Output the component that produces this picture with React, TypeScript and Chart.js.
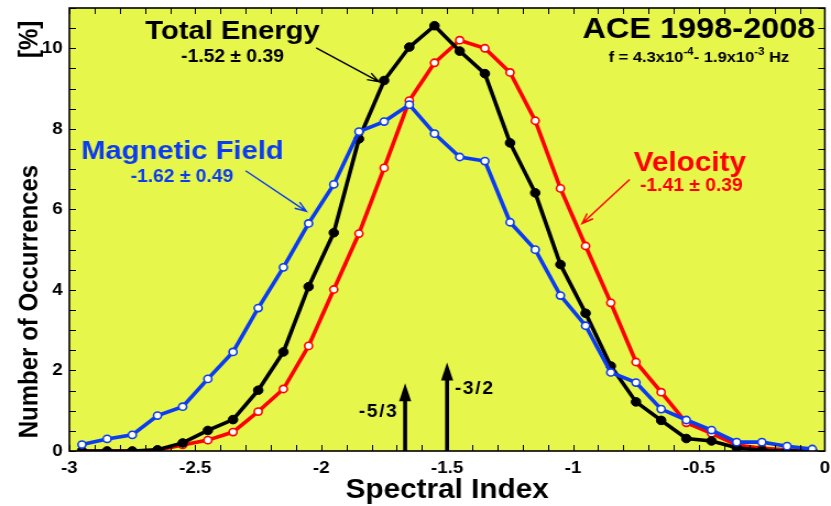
import React, { useEffect, useRef } from 'react';
import { Chart, registerables } from 'chart.js';

Chart.register(...registerables);

// ---------- data ----------
const spectralIndexBins = [
  -2.95, -2.85, -2.75, -2.65, -2.55, -2.45, -2.35, -2.25, -2.15, -2.05,
  -1.95, -1.85, -1.75, -1.65, -1.55, -1.45, -1.35, -1.25, -1.15, -1.05,
  -0.95, -0.85, -0.75, -0.65, -0.55, -0.45, -0.35, -0.25, -0.15, -0.05,
];
const magneticField = [
  0.16, 0.3, 0.4, 0.88, 1.1, 1.79, 2.46, 3.55, 4.56, 5.65,
  6.62, 7.93, 8.18, 8.6, 7.88, 7.3, 7.2, 5.68, 5.0, 3.86,
  3.11, 1.95, 1.7, 1.04, 0.77, 0.52, 0.22, 0.22, 0.12, 0.05,
];
const totalEnergy = [
  0, 0, 0, 0.03, 0.2, 0.51, 0.78, 1.51, 2.46, 4.08,
  5.42, 7.75, 9.2, 10.03, 10.56, 9.93, 9.37, 7.65, 6.41, 4.63,
  3.42, 2.11, 1.22, 0.76, 0.31, 0.25, 0.08, 0.02, 0, 0,
];
const velocity = [
  0, 0, 0, 0.02, 0.15, 0.27, 0.47, 0.98, 1.54, 2.61,
  4.01, 5.4, 7.03, 8.7, 9.64, 10.2, 10.0, 9.4, 8.2, 6.52,
  5.09, 3.68, 2.21, 1.46, 0.7, 0.44, 0.15, 0.07, 0.03, 0,
];
const xTicks = [-3, -2.5, -2, -1.5, -1, -0.5, 0];
const yTicks = [0, 2, 4, 6, 8, 10];
const xMinorStep = 0.1;
const yMinorStep = 0.5;

// annotation texts (data coordinates)
const textLabels = [
  { text: 'Total Energy', x: -2.352, y: 10.41, size: 26.5, color: '#000000', spacing: 0 },
  { text: '-1.52 ± 0.39', x: -2.352, y: 9.78, size: 17.5, color: '#000000', spacing: 0 },
  { text: 'ACE 1998-2008', x: -0.5, y: 10.46, size: 29.5, color: '#000000', spacing: 0 },
  { text: 'Magnetic Field', x: -2.551, y: 7.43, size: 26.5, color: '#0B3CF2', spacing: 0 },
  { text: '-1.62 ± 0.49', x: -2.553, y: 6.8, size: 17.5, color: '#0B3CF2', spacing: 0 },
  { text: 'Velocity', x: -0.536, y: 7.14, size: 27, color: '#FF0000', spacing: 0 },
  { text: '-1.41 ± 0.39', x: -0.53, y: 6.57, size: 17.5, color: '#FF0000', spacing: 0 },
  { text: '-5/3', x: -1.772, y: 0.97, size: 17.5, color: '#000000', spacing: 1.5 },
  { text: '-3/2', x: -1.39, y: 1.54, size: 17.5, color: '#000000', spacing: 1.5 },
];
const pointerArrows = [
  { x1: -2.02, y1: 10.01, x2: -1.771, y2: 9.17, color: '#000000' },
  { x1: -2.3, y1: 6.96, x2: -2.059, y2: 5.95, color: '#0B3CF2' },
  { x1: -0.775, y1: 6.74, x2: -0.964, y2: 5.65, color: '#FF0000' },
];
const theoryArrows = [
  { x: -5 / 3, top: 1.68 },
  { x: -3 / 2, top: 2.2 },
];
const freqLine = { x: -0.5, y: 9.76 };

const BLUE = '#0B3CF2';
const RED = '#FF0000';
const YELLOW = '#E6F64A';
const FONT = "'Liberation Sans', Arial, Helvetica, sans-serif";

function drawArrow(ctx: CanvasRenderingContext2D, x1: number, y1: number, x2: number, y2: number, color: string) {
  const ang = Math.atan2(y2 - y1, x2 - x1);
  const h = 11;
  ctx.save();
  ctx.strokeStyle = color;
  ctx.lineWidth = 1.4;
  ctx.beginPath();
  ctx.moveTo(x1, y1);
  ctx.lineTo(x2, y2);
  ctx.moveTo(x2 - h * Math.cos(ang - 0.35), y2 - h * Math.sin(ang - 0.35));
  ctx.lineTo(x2, y2);
  ctx.lineTo(x2 - h * Math.cos(ang + 0.35), y2 - h * Math.sin(ang + 0.35));
  ctx.stroke();
  ctx.restore();
}

const decorPlugin = {
  id: 'decor',
  beforeDraw(chart: any) {
    const { ctx, chartArea: a, width, height } = chart;
    ctx.save();
    ctx.fillStyle = '#ffffff';
    ctx.fillRect(0, 0, width, height);
    ctx.fillStyle = YELLOW;
    ctx.fillRect(a.left, a.top, a.right - a.left, a.bottom - a.top);
    ctx.restore();
  },
  beforeDatasetsDraw(chart: any) {
    const { ctx } = chart;
    const xs = chart.scales.x;
    const ys = chart.scales.y;
    ctx.save();
    ctx.fillStyle = '#000';
    for (const t of theoryArrows) {
      const px = xs.getPixelForValue(t.x);
      const pTop = ys.getPixelForValue(t.top);
      const pBot = ys.getPixelForValue(0);
      const headL = 18;
      const headW = 5.5;
      ctx.fillRect(px - 1.8, pTop + headL - 1, 3.6, pBot - pTop - headL + 1);
      ctx.beginPath();
      ctx.moveTo(px, pTop);
      ctx.lineTo(px + headW, pTop + headL);
      ctx.lineTo(px - headW, pTop + headL);
      ctx.closePath();
      ctx.fill();
    }
    ctx.restore();
  },
  afterDraw(chart: any) {
    const { ctx, chartArea: a } = chart;
    const xs = chart.scales.x;
    const ys = chart.scales.y;
    ctx.save();
    // ticks
    ctx.strokeStyle = '#000';
    ctx.lineWidth = 1;
    ctx.beginPath();
    const nx = Math.round((xs.max - xs.min) / xMinorStep);
    for (let i = 0; i <= nx; i++) {
      const px = Math.round(xs.getPixelForValue(xs.min + i * xMinorStep)) + 0.5;
      ctx.moveTo(px, a.bottom);
      ctx.lineTo(px, a.bottom - 6);
      ctx.moveTo(px, a.top);
      ctx.lineTo(px, a.top + 6);
    }
    const ny = Math.round((ys.max - ys.min) / yMinorStep);
    for (let i = 0; i <= ny; i++) {
      const py = Math.round(ys.getPixelForValue(ys.min + i * yMinorStep)) + 0.5;
      ctx.moveTo(a.left, py);
      ctx.lineTo(a.left + 6, py);
      ctx.moveTo(a.right, py);
      ctx.lineTo(a.right - 6, py);
    }
    ctx.stroke();
    // frame
    ctx.lineWidth = 1.6;
    ctx.strokeRect(a.left, a.top, a.right - a.left, a.bottom - a.top);

    // texts
    ctx.textAlign = 'center';
    ctx.textBaseline = 'middle';
    for (const l of textLabels) {
      ctx.fillStyle = l.color;
      ctx.font = `bold ${l.size}px ${FONT}`;
      (ctx as any).letterSpacing = `${l.spacing}px`;
      ctx.fillText(l.text, xs.getPixelForValue(l.x), ys.getPixelForValue(l.y));
    }
    (ctx as any).letterSpacing = '0px';
    for (const p of pointerArrows) {
      drawArrow(
        ctx,
        xs.getPixelForValue(p.x1), ys.getPixelForValue(p.y1),
        xs.getPixelForValue(p.x2), ys.getPixelForValue(p.y2),
        p.color,
      );
    }
    // frequency line with superscripts
    const parts: [string, boolean][] = [
      ['f = 4.3x10', false], ['-4', true], ['- 1.9x10', false], ['-3', true], [' Hz', false],
    ];
    const big = `bold 15px ${FONT}`;
    const small = `bold 10.5px ${FONT}`;
    let total = 0;
    for (const [s, sup] of parts) {
      ctx.font = sup ? small : big;
      total += ctx.measureText(s).width;
    }
    let cx = xs.getPixelForValue(freqLine.x) - total / 2;
    const cy = ys.getPixelForValue(freqLine.y);
    ctx.textAlign = 'left';
    ctx.fillStyle = '#000';
    for (const [s, sup] of parts) {
      ctx.font = sup ? small : big;
      ctx.fillText(s, cx, sup ? cy - 6 : cy);
      cx += ctx.measureText(s).width;
    }
    ctx.restore();
  },
};

function mk(arr: number[]) {
  return spectralIndexBins.map((x, i) => ({ x, y: arr[i] }));
}

export default function App() {
  const ref = useRef<HTMLCanvasElement>(null);
  useEffect(() => {
    document.body.style.margin = '0';
    const canvas = ref.current!;
    const chart = new Chart(canvas, {
      type: 'line',
      data: {
        datasets: [
          {
            label: 'Magnetic Field',
            data: mk(magneticField),
            borderColor: BLUE,
            backgroundColor: '#ffffff',
            pointBackgroundColor: '#ffffff',
            pointBorderColor: BLUE,
            pointBorderWidth: 1.6,
            pointRadius: 3.6,
            borderWidth: 3.6,
            tension: 0,
          },
          {
            label: 'Total Energy',
            data: mk(totalEnergy),
            borderColor: '#000000',
            backgroundColor: '#000000',
            pointBackgroundColor: '#000000',
            pointBorderColor: '#000000',
            pointBorderWidth: 1,
            pointRadius: 4.3,
            borderWidth: 3.6,
            tension: 0,
          },
          {
            label: 'Velocity',
            data: mk(velocity),
            borderColor: RED,
            backgroundColor: '#ffffff',
            pointBackgroundColor: '#ffffff',
            pointBorderColor: RED,
            pointBorderWidth: 1.6,
            pointRadius: 3.6,
            borderWidth: 3.6,
            tension: 0,
          },
        ],
      },
      options: {
        responsive: false,
        animation: false,
        devicePixelRatio: 1,
        layout: { padding: { top: 8, right: 2, left: 0, bottom: 0 } },
        plugins: { legend: { display: false }, tooltip: { enabled: false } },
        scales: {
          x: {
            type: 'linear',
            min: -3,
            max: 0,
            grid: { display: false, drawTicks: false },
            border: { display: false },
            afterBuildTicks: (s: any) => {
              s.ticks = xTicks.map((v) => ({ value: v }));
            },
            afterFit: (s: any) => {
              s.height = 55;
              s.paddingLeft = 0;
              s.paddingRight = 0;
            },
            ticks: {
              color: '#000',
              font: { family: FONT, size: 17, weight: 'bold' },
              padding: 7,
              maxRotation: 0,
              autoSkip: false,
              callback: (v: any) => String(v),
            },
            title: {
              display: true,
              text: 'Spectral Index',
              color: '#000',
              font: { family: FONT, size: 27, weight: 'bold', lineHeight: 1 },
              padding: { top: 0, bottom: 2 },
            },
          },
          y: {
            type: 'linear',
            min: 0,
            max: 11,
            grid: { display: false, drawTicks: false },
            border: { display: false },
            afterBuildTicks: (s: any) => {
              s.ticks = yTicks.map((v) => ({ value: v }));
            },
            afterFit: (s: any) => {
              s.width = 63;
              s.paddingTop = 0;
              s.paddingBottom = 0;
            },
            ticks: {
              color: '#000',
              font: { family: FONT, size: 17, weight: 'bold' },
              padding: 6,
              callback: (v: any) => String(v),
            },
            title: {
              display: true,
              text: 'Number of Occurrences                [%]',
              color: '#000',
              font: { family: FONT, size: 24, weight: 'bold', lineHeight: 1 },
              padding: { top: 15, bottom: 0 },
            },
          },
        },
      },
      plugins: [decorPlugin],
    } as any);
    return () => chart.destroy();
  }, []);
  return (
    <div style={{ width: 831, height: 506 }}>
      <canvas
        ref={ref}
        width={755}
        height={506}
        style={{ width: '831px', height: '506px', display: 'block' }}
      />
    </div>
  );
}
